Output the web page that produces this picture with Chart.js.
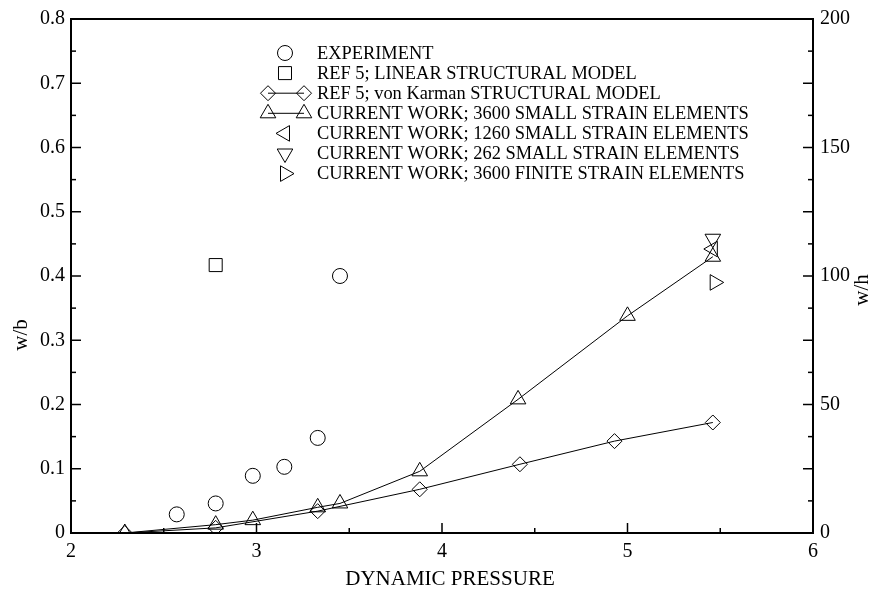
<!DOCTYPE html>
<html><head><meta charset="utf-8">
<script src="https://cdn.jsdelivr.net/npm/chart.js@4.4.1/dist/chart.umd.min.js"></script>
<style>html,body{margin:0;padding:0;background:#fff;}#wrap{width:875px;height:591px;position:relative;}</style>
</head><body><div id="wrap"><canvas id="c"></canvas></div>
<script>
// ---- data ----
const experimentX = [2.57, 2.78, 2.98, 3.15, 3.33, 3.45];
const experimentY = [0.029, 0.046, 0.089, 0.103, 0.148, 0.400];
const linearX = [2.78];
const linearY = [0.417];
const vonKarmanX = [2.29, 2.78, 3.33, 3.88, 4.42, 4.93, 5.46];
const vonKarmanY = [0.0, 0.008, 0.034, 0.068, 0.107, 0.143, 0.172];
const small3600X = [2.29, 2.78, 2.98, 3.33, 3.45, 3.88, 4.41, 5.00, 5.46];
const small3600Y = [0.0, 0.013, 0.020, 0.040, 0.046, 0.096, 0.208, 0.338, 0.430];
const small1260X = [5.46];
const small1260Y = [0.442];
const small262X = [5.46];
const small262Y = [0.458];
const finite3600X = [5.47];
const finite3600Y = [0.390];
const seriesLabels = [
  'EXPERIMENT',
  'REF 5; LINEAR STRUCTURAL MODEL',
  'REF 5; von Karman STRUCTURAL MODEL',
  'CURRENT WORK; 3600 SMALL STRAIN ELEMENTS',
  'CURRENT WORK; 1260 SMALL STRAIN ELEMENTS',
  'CURRENT WORK; 262 SMALL STRAIN ELEMENTS',
  'CURRENT WORK; 3600 FINITE STRAIN ELEMENTS'
];
const xTickLabels = [2, 3, 4, 5, 6];
const yTickLabels = [0, 0.1, 0.2, 0.3, 0.4, 0.5, 0.6, 0.7, 0.8];
const y2TickLabels = [0, 50, 100, 150, 200];
const xTitle = 'DYNAMIC PRESSURE';
const yTitle = 'w/b';
const y2Title = 'w/h';

const SERIF = '"Liberation Serif", "Times New Roman", serif';
const pts = (xs, ys) => xs.map((x, i) => ({x: x, y: ys[i]}));
const near = (v, list) => list.some(l => Math.abs(v - l) < 1e-6);

function ds(label, data, style, radius, rotation, line) {
  return {
    label: label, data: data, pointStyle: style, pointRadius: radius,
    pointHoverRadius: radius, pointRotation: rotation || 0,
    pointBorderColor: '#000', pointBackgroundColor: 'rgba(0,0,0,0)',
    pointBorderWidth: 1, borderColor: '#000', borderWidth: 1,
    showLine: !!line, fill: false, tension: 0
  };
}

const datasets = [
  ds(seriesLabels[0], pts(experimentX, experimentY), 'circle', 7.5, 0, false),
  ds(seriesLabels[1], pts(linearX, linearY), 'rect', 9.2, 0, false),
  ds(seriesLabels[2], pts(vonKarmanX, vonKarmanY), 'rectRot', 7.5, 0, true),
  ds(seriesLabels[3], pts(small3600X, small3600Y), 'triangle', 9, 0, true),
  ds(seriesLabels[4], pts(small1260X, small1260Y), 'triangle', 9, 270, false),
  ds(seriesLabels[5], pts(small262X, small262Y), 'triangle', 9, 180, false),
  ds(seriesLabels[6], pts(finite3600X, finite3600Y), 'triangle', 9, 90, false)
];

const frameAndTicks = {
  id: 'frameAndTicks',
  afterDatasetsDraw(chart) {
    const ctx = chart.ctx, a = chart.chartArea;
    ctx.save();
    ctx.strokeStyle = '#000';
    ctx.lineWidth = 1.5;
    const seg = (x1, y1, x2, y2) => { ctx.beginPath(); ctx.moveTo(x1, y1); ctx.lineTo(x2, y2); ctx.stroke(); };
    const xs = chart.scales.x;
    xs.ticks.forEach(t => {
      const p = xs.getPixelForValue(t.value);
      const len = near(t.value, xTickLabels) ? 10 : 5;
      seg(p, a.bottom, p, a.bottom - len);
    });
    const ys = chart.scales.y;
    ys.ticks.forEach(t => {
      const p = ys.getPixelForValue(t.value);
      const len = near(t.value, yTickLabels) ? 10 : 5;
      seg(a.left, p, a.left + len, p);
    });
    const y2 = chart.scales.y2;
    y2.ticks.forEach(t => {
      const p = y2.getPixelForValue(t.value);
      const len = (Math.abs(t.value / 25 - Math.round(t.value / 25)) < 1e-6) ? 10 : 5;
      seg(a.right, p, a.right - len, p);
    });
    ctx.lineWidth = 2;
    ctx.strokeRect(a.left, a.top, a.right - a.left, a.bottom - a.top);
    ctx.restore();
  }
};

const titlesAndLegend = {
  id: 'titlesAndLegend',
  afterDraw(chart) {
    const ctx = chart.ctx, a = chart.chartArea;
    ctx.save();
    ctx.fillStyle = '#000';
    ctx.font = '21px ' + SERIF;
    ctx.textAlign = 'center';
    ctx.textBaseline = 'middle';
    ctx.fillText(xTitle, 450, 579);
    ctx.save(); ctx.translate(21, 335); ctx.rotate(-Math.PI / 2); ctx.fillText(yTitle, 0, 0); ctx.restore();
    ctx.save(); ctx.translate(862, 290); ctx.rotate(-Math.PI / 2); ctx.fillText(y2Title, 0, 0); ctx.restore();

    // legend
    const symX = 285, textX = 317, top = 53, step = 20.1;
    ctx.font = '18.4px ' + SERIF;
    ctx.textAlign = 'left';
    chart.data.datasets.forEach((d, i) => {
      const y = top + i * step;
      ctx.fillStyle = '#000';
      ctx.fillText(d.label, textX, y + 1);
      ctx.strokeStyle = '#000';
      ctx.fillStyle = 'rgba(0,0,0,0)';
      ctx.lineWidth = 1;
      const opt = {pointStyle: d.pointStyle, radius: d.pointRadius, rotation: d.pointRotation, borderWidth: 1};
      if (d.showLine) {
        ctx.beginPath(); ctx.moveTo(268, y); ctx.lineTo(304, y); ctx.stroke();
        Chart.helpers.drawPoint(ctx, opt, 268, y);
        Chart.helpers.drawPoint(ctx, opt, 304, y);
      } else {
        Chart.helpers.drawPoint(ctx, opt, symX, y);
      }
    });
    ctx.restore();
  }
};

new Chart(document.getElementById('c'), {
  type: 'scatter',
  data: {datasets: datasets},
  options: {
    responsive: true, maintainAspectRatio: false, animation: false,
    layout: {padding: {top: 15, left: 0, right: 0, bottom: 0}},
    plugins: {legend: {display: false}, tooltip: {enabled: false}},
    scales: {
      x: {
        type: 'linear', position: 'bottom', min: 2, max: 6,
        afterFit: s => { s.height = 58; },
        grid: {display: false, drawTicks: false},
        border: {display: false},
        ticks: {stepSize: 0.5, autoSkip: false, maxRotation: 0, padding: 7, color: '#000',
          font: {family: SERIF, size: 20},
          callback: v => near(v, xTickLabels) ? String(Math.round(v)) : ''}
      },
      y: {
        type: 'linear', position: 'left', min: 0, max: 0.8,
        afterFit: s => { s.width = 71; },
        grid: {display: false, drawTicks: false},
        border: {display: false},
        ticks: {stepSize: 0.05, autoSkip: false, padding: 6, color: '#000',
          font: {family: SERIF, size: 20},
          callback: v => near(v, yTickLabels) ? (Math.abs(v) < 1e-9 ? '0' : (Math.round(v * 10) / 10).toString()) : ''}
      },
      y2: {
        type: 'linear', position: 'right', min: 0, max: 200,
        afterFit: s => { s.width = 62; },
        grid: {display: false, drawTicks: false},
        border: {display: false},
        ticks: {stepSize: 12.5, autoSkip: false, padding: 7, color: '#000',
          font: {family: SERIF, size: 20},
          callback: v => near(v, y2TickLabels) ? String(Math.round(v)) : ''}
      }
    }
  },
  plugins: [frameAndTicks, titlesAndLegend]
});
</script>
</body></html>
